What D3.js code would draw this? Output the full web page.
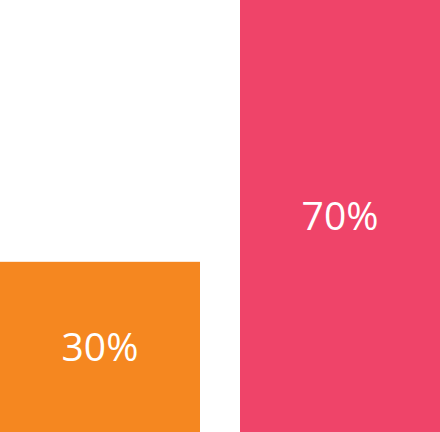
<!DOCTYPE html>
<html>
<head>
<meta charset="utf-8">
<script src="https://cdn.jsdelivr.net/npm/d3@7"></script>
<style>
  html, body { margin: 0; padding: 0; background: #fff; }
  svg { display: block; }
</style>
</head>
<body>
<div id="chart"></div>
<script>
const categories = ['A', 'B'];
const values = [30, 70];
const labels = ['30%', '70%'];
const colors = ['#F58720', '#EF4469'];

const width = 440;
const height = 432;

const svg = d3.select("#chart")
    .append("svg")
    .attr("width", width)
    .attr("height", height);

const x = d3.scaleBand()
    .domain(categories)
    .range([0, width])
    .paddingInner(0.1667)
    .paddingOuter(0);

// bars don't start at zero in the original, the short one is cut down a bit
const y = d3.scaleLinear()
    .domain([4, 70])
    .range([height, 0]);

const data = categories.map((c, i) => ({cat: c, value: values[i], label: labels[i], color: colors[i]}));

svg.selectAll(".bar")
    .data(data)
    .enter().append("rect")
    .attr("class", "bar")
    .attr("x", d => x(d.cat))
    .attr("y", d => y(d.value))
    .attr("width", x.bandwidth())
    .attr("height", d => height - y(d.value))
    .attr("fill", d => d.color);

svg.selectAll(".label")
    .data(data)
    .enter().append("text")
    .attr("class", "label")
    .attr("x", d => x(d.cat) + x.bandwidth() / 2)
    .attr("y", d => (y(d.value) + height) / 2)
    .attr("dy", "0.35em")
    .attr("text-anchor", "middle")
    .attr("fill", "#fff")
    .style("font-family", "'Open Sans', sans-serif")
    .style("font-size", "39px")
    .text(d => d.label);
</script>
</body>
</html>
